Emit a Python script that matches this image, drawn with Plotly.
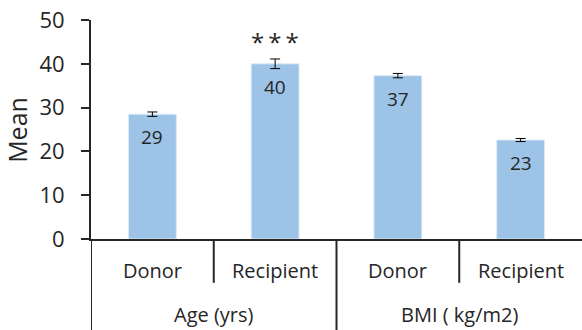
import plotly.graph_objects as go

groups = ["Age (yrs)", "Age (yrs)", "BMI ( kg/m2)", "BMI ( kg/m2)"]
subgroups = ["Donor", "Recipient", "Donor", "Recipient"]
means = [28.5, 40.0, 37.3, 22.6]
errors = [0.5, 1.1, 0.5, 0.35]
bar_labels = ["29", "40", "37", "23"]
significance = ["", "*\u2009*\u2009*", "", ""]
y_ticks = [0, 10, 20, 30, 40, 50]

FONT = "Open Sans"
TXT = "#262626"
AX = "#262626"

xpos = list(range(len(means)))

fig = go.Figure()
fig.add_trace(go.Bar(
    x=xpos, y=means, width=0.39,
    marker=dict(color="#9DC3E6", line=dict(color="#DDEBF7", width=1)),
    error_y=dict(type="data", array=errors, color="#000000", thickness=1, width=5),
    hoverinfo="skip",
))

annotations = []
for i, (m, lab) in enumerate(zip(means, bar_labels)):
    annotations.append(dict(x=i, y=m, xref="x", yref="y", text=lab, showarrow=False,
                            yshift=-23, font=dict(family=FONT, size=19, color=TXT)))
for i, (m, e, s) in enumerate(zip(means, errors, significance)):
    if s:
        annotations.append(dict(x=i, y=m + e, xref="x", yref="y", text=s, showarrow=False,
                                yshift=17, font=dict(family=FONT, size=24, color=TXT)))
# sub-level category labels
for i, s in enumerate(subgroups):
    annotations.append(dict(x=i, y=-0.1416, xref="x", yref="paper", text=s, showarrow=False,
                            yanchor="middle", font=dict(family=FONT, size=20, color=TXT)))
# group labels
uniq = []
for g in groups:
    if g not in uniq:
        uniq.append(g)
for g in uniq:
    idx = [i for i, gg in enumerate(groups) if gg == g]
    annotations.append(dict(x=sum(idx) / len(idx), y=-0.347, xref="x", yref="paper", text=g,
                            showarrow=False, yanchor="middle",
                            font=dict(family=FONT, size=20, color=TXT)))
annotations.append(dict(x=-0.152, y=0.5, xref="paper", yref="paper", text="Mean", showarrow=False,
                        textangle=-90, xanchor="center", yanchor="middle",
                        font=dict(family=FONT, size=25, color=TXT)))

shapes = []
for i in range(len(groups) - 1):
    b = i + 0.5
    y1 = -0.2 if groups[i] == groups[i + 1] else -0.42
    shapes.append(dict(type="line", xref="x", yref="paper", x0=b, x1=b, y0=0, y1=y1,
                       line=dict(color=AX, width=2)))
shapes.append(dict(type="line", xref="x", yref="paper", x0=-0.5, x1=-0.5, y0=0, y1=-0.42,
                   line=dict(color=AX, width=2)))

fig.update_layout(
    width=582, height=330,
    margin=dict(l=91, r=0, t=20, b=91),
    paper_bgcolor="white", plot_bgcolor="white",
    showlegend=False,
    annotations=annotations,
    shapes=shapes,
    xaxis=dict(range=[-0.5, 3.5], showticklabels=False, ticks="", showgrid=False, zeroline=False,
               showline=True, linecolor=AX, linewidth=2, fixedrange=True),
    yaxis=dict(range=[0, 50], tickvals=y_ticks, ticks="outside", ticklen=8, tickwidth=2,
               tickcolor=AX, showline=True, linecolor=AX, linewidth=2, showgrid=False,
               zeroline=False, ticklabelstandoff=12,
               tickfont=dict(family=FONT, size=22, color=TXT), fixedrange=True),
)

fig.write_html("out.html")
